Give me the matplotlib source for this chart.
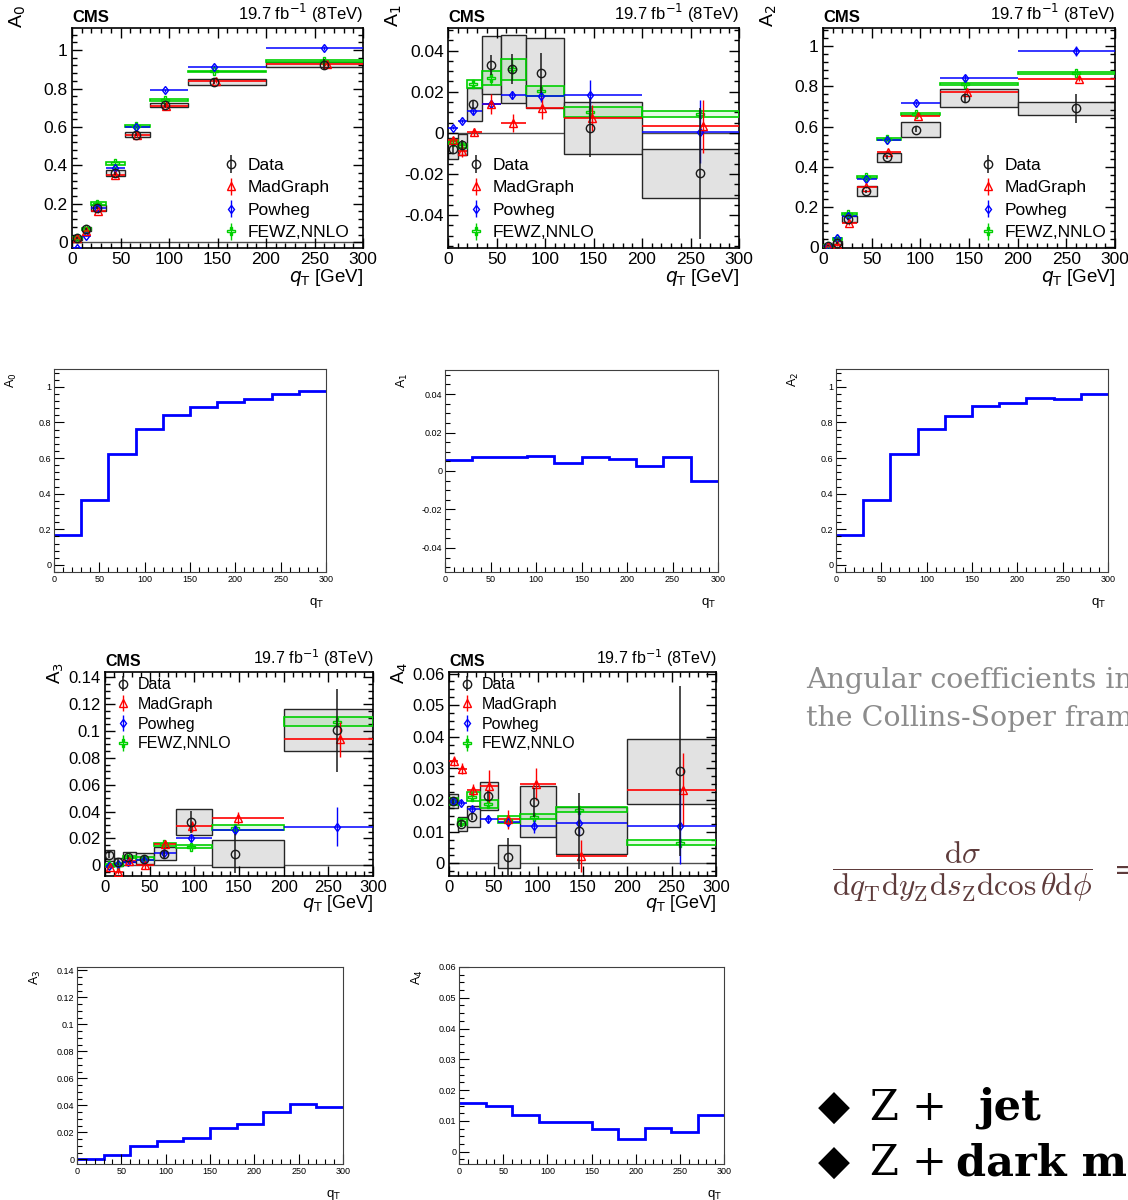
import matplotlib

matplotlib.use("Agg")
import matplotlib.pyplot as plt
import numpy as np
from matplotlib.ticker import FuncFormatter, MultipleLocator

plt.rcParams["font.family"] = ["Liberation Sans", "DejaVu Sans"]
plt.rcParams["mathtext.fontset"] = "dejavusans"

W, H = 1128, 1200

# q_T binning of the CMS measurement and mean q_T per bin
QT_EDGES = [0, 10, 20, 35, 55, 80, 120, 200, 300]
QT_MEAN = [5, 14, 26, 44, 66, 96, 146, 260]

# A0
A0_DATA = [0.02, 0.07, 0.18, 0.36, 0.56, 0.715, 0.835, 0.925]
A0_STAT = [0.005, 0.005, 0.006, 0.008, 0.008, 0.010, 0.012, 0.030]
A0_SYS_DN = [0.010, 0.010, 0.015, 0.015, 0.012, 0.010, 0.015, 0.012]
A0_SYS_UP = A0_SYS_DN
A0_MG = [0.02, 0.06, 0.16, 0.35, 0.56, 0.71, 0.84, 0.93]
A0_MG_ERR = [0.005, 0.005, 0.010, 0.010, 0.010, 0.012, 0.012, 0.012]
A0_PW = [-0.03, 0.035, 0.18, 0.385, 0.60, 0.79, 0.913, 1.013]
A0_PW_ERR = [0.005, 0.005, 0.006, 0.006, 0.006, 0.008, 0.008, 0.010]
A0_FZ = [0.02, 0.07, 0.20, 0.41, 0.605, 0.74, 0.89, 0.945]
A0_FZ_ERR = [0.005, 0.005, 0.008, 0.008, 0.006, 0.006, 0.002, 0.006]

# A1
A1_DATA = [-0.0078, -0.0057, 0.0138, 0.033, 0.031, 0.029, 0.0025, -0.0197]
A1_STAT = [0.002, 0.002, 0.002, 0.0047, 0.0072, 0.0097, 0.0142, 0.0318]
A1_SYS_DN = [0.0051, 0.0052, 0.0082, 0.0142, 0.0165, 0.017, 0.0127, 0.0119]
A1_SYS_UP = A1_SYS_DN
A1_MG = [-0.0034, -0.0086, 0.0003, 0.014, 0.0047, 0.0121, 0.0072, 0.0032]
A1_MG_ERR = [0.0015, 0.003, 0.002, 0.005, 0.0045, 0.0055, 0.0065, 0.013]
A1_PW = [0.0026, 0.0058, 0.0104, 0.0141, 0.0185, 0.018, 0.0185, 0.0006]
A1_PW_ERR = [0.0008, 0.0008, 0.001, 0.0015, 0.002, 0.003, 0.007, 0.0155]
A1_FZ = [-0.0045, -0.0065, 0.0237, 0.0267, 0.031, 0.0203, 0.0102, 0.0092]
A1_FZ_ERR = [0.001, 0.001, 0.0018, 0.0036, 0.0051, 0.0025, 0.0026, 0.0016]

# A2
A2_DATA = [0.008, 0.022, 0.14, 0.278, 0.447, 0.585, 0.742, 0.69]
A2_STAT = [0.003, 0.004, 0.006, 0.008, 0.010, 0.012, 0.018, 0.070]
A2_SYS_DN = [0.006, 0.008, 0.016, 0.024, 0.022, 0.037, 0.043, 0.033]
A2_SYS_UP = A2_SYS_DN
A2_MG = [0.004, 0.012, 0.12, 0.30, 0.475, 0.653, 0.77, 0.838]
A2_MG_ERR = [0.005, 0.005, 0.008, 0.008, 0.008, 0.008, 0.010, 0.012]
A2_PW = [0.008, 0.045, 0.155, 0.34, 0.534, 0.715, 0.842, 0.974]
A2_PW_ERR = [0.005, 0.005, 0.006, 0.006, 0.008, 0.010, 0.012, 0.025]
A2_FZ = [0.006, 0.042, 0.165, 0.35, 0.54, 0.66, 0.81, 0.866]
A2_FZ_ERR = [0.004, 0.004, 0.006, 0.006, 0.005, 0.005, 0.005, 0.005]

# A3
A3_DATA = [0.0075, 0.0025, 0.0062, 0.005, 0.0087, 0.0323, 0.0087, 0.1007]
A3_STAT = [0.002, 0.002, 0.0015, 0.002, 0.003, 0.0085, 0.0145, 0.031]
A3_SYS_DN = [0.004, 0.003, 0.0038, 0.0042, 0.005, 0.0096, 0.010, 0.0157]
A3_SYS_UP = A3_SYS_DN
A3_MG = [-0.0012, -0.005, 0.003, 0.0, 0.0157, 0.029, 0.0355, 0.0938]
A3_MG_ERR = [0.001, 0.0015, 0.002, 0.0025, 0.003, 0.004, 0.0045, 0.013]
A3_PW = [-0.0005, 0.0007, 0.0025, 0.0037, 0.0094, 0.0205, 0.0262, 0.0286]
A3_PW_ERR = [0.001, 0.001, 0.0015, 0.002, 0.002, 0.003, 0.004, 0.0145]
A3_FZ = [0.0, 0.0005, 0.0062, 0.005, 0.0157, 0.0137, 0.028, 0.107]
A3_FZ_ERR = [0.001, 0.001, 0.001, 0.001, 0.0012, 0.0012, 0.0017, 0.0031]

# A4
A4_DATA = [0.0196, 0.0125, 0.0148, 0.0214, 0.0021, 0.0193, 0.0101, 0.0292]
A4_STAT = [0.0008, 0.001, 0.0012, 0.0015, 0.0058, 0.0045, 0.012, 0.027]
A4_SYS_DN = [0.0021, 0.0024, 0.0032, 0.0045, 0.0036, 0.0111, 0.0071, 0.0104]
A4_SYS_UP = [0.0022, 0.0021, 0.0032, 0.0043, 0.0038, 0.0053, 0.0076, 0.0102]
A4_MG = [0.0323, 0.0299, 0.0232, 0.0244, 0.014, 0.0251, 0.0023, 0.0233]
A4_MG_ERR = [0.0015, 0.0018, 0.002, 0.005, 0.003, 0.005, 0.005, 0.0115]
A4_PW = [0.0196, 0.0191, 0.0172, 0.014, 0.013, 0.0117, 0.0127, 0.0117]
A4_PW_ERR = [0.0008, 0.0008, 0.001, 0.0012, 0.0015, 0.002, 0.004, 0.012]
A4_FZ = [0.0196, 0.013, 0.0211, 0.0188, 0.0138, 0.0148, 0.0169, 0.0065]
A4_FZ_ERR = [0.001, 0.001, 0.0014, 0.0012, 0.0012, 0.0009, 0.0008, 0.0008]

# simple 30 GeV histograms
HIST_EDGES = [0, 30, 60, 90, 120, 150, 180, 210, 240, 270, 300]
H_A0 = [0.17, 0.365, 0.625, 0.765, 0.84, 0.885, 0.915, 0.932, 0.958, 0.975]
H_A1 = [0.0059, 0.0073, 0.0073, 0.0078, 0.0042, 0.0073, 0.0061, 0.0024, 0.0073, -0.0052]
H_A2 = [0.17, 0.365, 0.625, 0.765, 0.838, 0.89, 0.91, 0.937, 0.93, 0.958]
H_A3 = [0.0005, 0.0035, 0.010, 0.0138, 0.016, 0.0235, 0.0265, 0.035, 0.041, 0.0385]
H_A4 = [0.0159, 0.0149, 0.012, 0.0095, 0.0098, 0.0074, 0.0042, 0.0077, 0.0064, 0.0119]

GREEN = "#00d000"

fig = plt.figure(figsize=(W / 100, H / 100), dpi=100)


def add_axes_px(left, right, top, bottom):
    return fig.add_axes([left / W, 1 - bottom / H, (right - left) / W, (bottom - top) / H])


def gfmt(v, pos):
    if abs(v) < 1e-12:
        v = 0.0
    return f"{v:g}"


def draw_cms(rect, idx, data, stat, sys_dn, sys_up, mg, mg_err, pw, pw_err, fz, fz_err,
             ylim, ymaj, ymin, leg_xy, fs=12.5, leg_fs=12.5, leg_space=0.42,
             ylab_top=1.105, zero_line=True):
    ax = add_axes_px(*rect)
    edges = np.asarray(QT_EDGES, float)
    lo, hi = edges[:-1], edges[1:]
    width = hi - lo
    x = np.asarray(QT_MEAN, float)
    data, stat = np.asarray(data), np.asarray(stat)
    sys_dn, sys_up = np.asarray(sys_dn), np.asarray(sys_up)
    mg, mg_err = np.asarray(mg), np.asarray(mg_err)
    pw, pw_err = np.asarray(pw), np.asarray(pw_err)
    fz, fz_err = np.asarray(fz), np.asarray(fz_err)

    if zero_line:
        ax.axhline(0, color="0.3", lw=1, zorder=0.5)
    ax.bar(lo, sys_dn + sys_up, width=width, bottom=data - sys_dn, align="edge",
           color="#e2e2e2", edgecolor="0.15", lw=1, zorder=1)

    # predictions
    ax.bar(lo, 2 * fz_err, width=width, bottom=fz - fz_err, align="edge",
           facecolor=(0.0, 0.85, 0.0, 0.10), edgecolor=GREEN, lw=1.2, zorder=3)
    ax.hlines(mg, lo, hi, color="red", lw=1.2, zorder=3)
    ax.hlines(pw, lo, hi, color="blue", lw=1.1, zorder=3)

    x_mg = x + 0.03 * width
    h_fz = ax.errorbar(x, fz, yerr=fz_err, fmt="P", ms=5.5, mfc="none", mec=GREEN,
                       ecolor=GREEN, elinewidth=1, mew=1.0, zorder=4)
    h_pw = ax.errorbar(x, pw, yerr=pw_err, fmt="d", ms=4.5, mfc="none", mec="blue",
                       ecolor="blue", elinewidth=1, mew=1.0, zorder=5)
    h_mg = ax.errorbar(x_mg, mg, yerr=mg_err, fmt="^", ms=6, mfc="none", mec="red",
                       ecolor="red", elinewidth=1, mew=1.0, zorder=5)
    h_da = ax.errorbar(x, data, yerr=stat, fmt="o", ms=6, mfc="none", mec="0.1",
                       ecolor="0.1", elinewidth=1.1, mew=1.0, zorder=6)

    ax.set_xlim(0, 300)
    ax.set_ylim(*ylim)
    ax.xaxis.set_major_locator(MultipleLocator(50))
    ax.xaxis.set_minor_locator(MultipleLocator(10))
    ax.yaxis.set_major_locator(MultipleLocator(ymaj))
    ax.yaxis.set_minor_locator(MultipleLocator(ymin))
    ax.yaxis.set_major_formatter(FuncFormatter(gfmt))
    ax.tick_params(which="both", direction="in", top=True, right=True,
                   labelsize=fs, pad=3, width=1)
    ax.tick_params(which="major", length=7)
    ax.tick_params(which="minor", length=3.5)
    for s in ax.spines.values():
        s.set_linewidth(1.2)

    ax.text(0.0, 1.015, "CMS", transform=ax.transAxes, ha="left", va="bottom",
            fontsize=fs - 0.5, fontweight="bold")
    ax.text(1.0, 1.015, "19.7 fb$^{-1}$ (8TeV)", transform=ax.transAxes, ha="right",
            va="bottom", fontsize=fs - 0.5)
    ax.text(-0.185, ylab_top, f"A$_{idx}$", transform=ax.transAxes, rotation=90,
            ha="center", va="top", fontsize=fs + 1.5)
    ax.text(1.0, -0.135, "$q_\\mathrm{T}$ [GeV]", transform=ax.transAxes, ha="right",
            va="center", fontsize=fs + 1)

    ax.legend([h_da, h_mg, h_pw, h_fz], ["Data", "MadGraph", "Powheg", "FEWZ,NNLO"],
              loc="upper left", bbox_to_anchor=leg_xy, frameon=False, fontsize=leg_fs,
              handlelength=0.9, handletextpad=0.5, labelspacing=leg_space, borderpad=0,
              borderaxespad=0)
    return ax


def draw_simple(rect, idx, vals, ylim, ymaj, ymin):
    ax = add_axes_px(*rect)
    ax.stairs(vals, HIST_EDGES, color="#0000ff", lw=2, baseline=None)
    ax.set_xlim(0, 300)
    ax.set_ylim(*ylim)
    ax.xaxis.set_major_locator(MultipleLocator(50))
    ax.xaxis.set_minor_locator(MultipleLocator(10))
    ax.yaxis.set_major_locator(MultipleLocator(ymaj))
    ax.yaxis.set_minor_locator(MultipleLocator(ymin))
    ax.yaxis.set_major_formatter(FuncFormatter(gfmt))
    ax.tick_params(which="both", direction="in", labelsize=6.5, pad=2, width=0.8)
    ax.tick_params(which="major", length=7)
    ax.tick_params(which="minor", length=3.5)
    for s in ax.spines.values():
        s.set_linewidth(0.8)
        s.set_color("0.25")
    ax.text(-0.155, 0.985, f"A$_{idx}$", transform=ax.transAxes, rotation=90,
            ha="center", va="top", fontsize=9)
    ax.text(0.965, -0.155, "q$_\\mathrm{T}$", transform=ax.transAxes, ha="center",
            va="center", fontsize=9.5)
    return ax


# top row: CMS measurements
draw_cms((72, 363, 28, 248), 0, A0_DATA, A0_STAT, A0_SYS_DN, A0_SYS_UP, A0_MG, A0_MG_ERR,
         A0_PW, A0_PW_ERR, A0_FZ, A0_FZ_ERR, (-0.03, 1.115), 0.2, 0.04, (0.52, 0.41))
draw_cms((448, 739, 28, 248), 1, A1_DATA, A1_STAT, A1_SYS_DN, A1_SYS_UP, A1_MG, A1_MG_ERR,
         A1_PW, A1_PW_ERR, A1_FZ, A1_FZ_ERR, (-0.056, 0.051), 0.02, 0.005, (0.07, 0.41))
draw_cms((823, 1115, 28, 248), 2, A2_DATA, A2_STAT, A2_SYS_DN, A2_SYS_UP, A2_MG, A2_MG_ERR,
         A2_PW, A2_PW_ERR, A2_FZ, A2_FZ_ERR, (-0.004, 1.09), 0.2, 0.04, (0.54, 0.41),
         zero_line=False)

# second row: simple histograms
draw_simple((54, 326, 369, 572), 0, H_A0, (-0.04, 1.1), 0.2, 0.04)
draw_simple((445, 718, 370, 572), 1, H_A1, (-0.0525, 0.0525), 0.02, 0.005)
draw_simple((836, 1108, 369, 572), 2, H_A2, (-0.04, 1.1), 0.2, 0.04)

# third row: CMS measurements
draw_cms((105, 373, 672, 876), 3, A3_DATA, A3_STAT, A3_SYS_DN, A3_SYS_UP, A3_MG, A3_MG_ERR,
         A3_PW, A3_PW_ERR, A3_FZ, A3_FZ_ERR, (-0.008, 0.144), 0.02, 0.005, (0.04, 0.975),
         fs=12, leg_fs=11.5, leg_space=0.3, ylab_top=1.05)
draw_cms((449, 716, 672, 876), 4, A4_DATA, A4_STAT, A4_SYS_DN, A4_SYS_UP, A4_MG, A4_MG_ERR,
         A4_PW, A4_PW_ERR, A4_FZ, A4_FZ_ERR, (-0.004, 0.0605), 0.01, 0.0025, (0.04, 0.975),
         fs=12, leg_fs=11.5, leg_space=0.3, ylab_top=1.05)

# fourth row: simple histograms
draw_simple((77, 343, 967, 1164), 3, H_A3, (-0.0035, 0.1425), 0.02, 0.005)
draw_simple((459, 724, 967, 1164), 4, H_A4, (-0.004, 0.06), 0.01, 0.0025)

# right-hand slide text (cut at the page edge, as in the source slide)
fig.text(806 / W, 1 - 681 / H, "Angular coefficients in", color="#8c8c8c",
         fontsize=20.5, family="DejaVu Serif", va="center", ha="left")
fig.text(806 / W, 1 - 719 / H, "the Collins-Soper frame", color="#8c8c8c",
         fontsize=20.5, family="DejaVu Serif", va="center", ha="left")
fig.text(962 / W, 1 - 872 / H,
         r"$\dfrac{\mathrm{d}\sigma}{\mathrm{d}q_{\mathrm{T}}\mathrm{d}y_{\mathrm{Z}}"
         r"\mathrm{d}s_{\mathrm{Z}}\mathrm{d}\cos\theta\mathrm{d}\phi}$",
         color="#5e3b3b", fontsize=22.5, ha="center", va="center", math_fontfamily="cm")
fig.text(1114 / W, 1 - 872 / H, "=", color="#5e3b3b", fontsize=20, ha="left",
         va="center", family="DejaVu Serif")

for y, rest in ((1108, "jet"), (1163, "dark matter")):
    fig.text(818 / W, 1 - y / H, "\u25c6", fontsize=30, family="DejaVu Sans",
             ha="left", va="center", color="black")
    fig.text(870 / W, 1 - y / H, "Z +", fontsize=30, family="DejaVu Serif",
             ha="left", va="center", color="black")
    fig.text((978 if rest == "jet" else 956) / W, 1 - y / H, rest, fontsize=31,
             family="DejaVu Serif", fontweight="bold", ha="left", va="center",
             color="black")

fig.savefig("out.png", dpi=100)
